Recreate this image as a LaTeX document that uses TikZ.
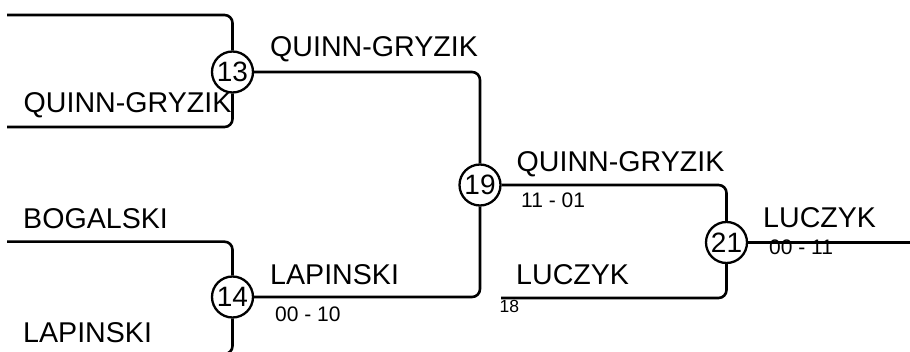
\documentclass[tikz,border=0pt]{standalone}
\usepackage{fontspec}
\setmainfont{Liberation Sans}
\begin{document}
\begin{tikzpicture}[x=1pt,y=-1pt,
  mcircle/.style={circle, draw, line width=2.3pt, minimum size=41pt, inner sep=0pt, fill=white, font=\fontsize{28}{28}\selectfont},
  player/.style={anchor=base west, inner sep=0pt, font=\fontsize{28.6}{32}\selectfont},
  scoretxt/.style={anchor=base west, inner sep=0pt, font=\fontsize{21}{24}\selectfont},
  seedtxt/.style={anchor=base west, inner sep=0pt, font=\fontsize{17.5}{20}\selectfont},
  wire/.style={line width=2.6pt, rounded corners=8pt}]
\useasboundingbox (0,0) rectangle (910,352);
\clip (0,0) rectangle (910,352);

% match nodes
\node[mcircle] (m13) at (232.5,72) {13};
\node[mcircle] (m14) at (232.5,297) {14};
\node[mcircle] (m19) at (480,185) {19};
\node[mcircle] (m21) at (726.5,242.5) {21};

% free ends
\coordinate (s1) at (7,15);
\coordinate (s2) at (7,127);
\coordinate (s3) at (7,241.7);
\coordinate (s4) at (7,354);
\coordinate (s5) at (501,298);
\coordinate (e1) at (912,242.5);

% connectors
\draw[wire] (s1) -| (m13.north);
\draw[wire] (s2) -| (m13.south);
\draw[wire] (s3) -| (m14.north);
\draw[wire] (s4) -| (m14.south);
\draw[wire] (m13.east) -| (m19.north);
\draw[wire] (m14.east) -| (m19.south);
\draw[wire] (m19.east) -| (m21.north);
\draw[wire] (s5) -| (m21.south);
\draw[wire] (m21.east) -- (e1);

% labels
\node[player] (t1) at (23.5,113) {QUINN-GRYZIK};
\node[player] (t2) at (23,229) {BOGALSKI};
\node[player] (t3) at (23,343) {LAPINSKI};
\node[player] (t4) at (270,56.7) {QUINN-GRYZIK};
\node[player] (t5) at (270,285) {LAPINSKI};
\node[scoretxt] (t6) at (275,321.7) {00 - 10};
\node[player] (t7) at (516.5,171.7) {QUINN-GRYZIK};
\node[scoretxt] (t8) at (521,208) {11 - 01};
\node[player] (t9) at (516,285) {LUCZYK};
\node[seedtxt] (t10) at (499.5,313) {18};
\node[player] (t11) at (763,228) {LUCZYK};
\node[scoretxt] (t12) at (769,255) {00 - 11};
\end{tikzpicture}
\end{document}
